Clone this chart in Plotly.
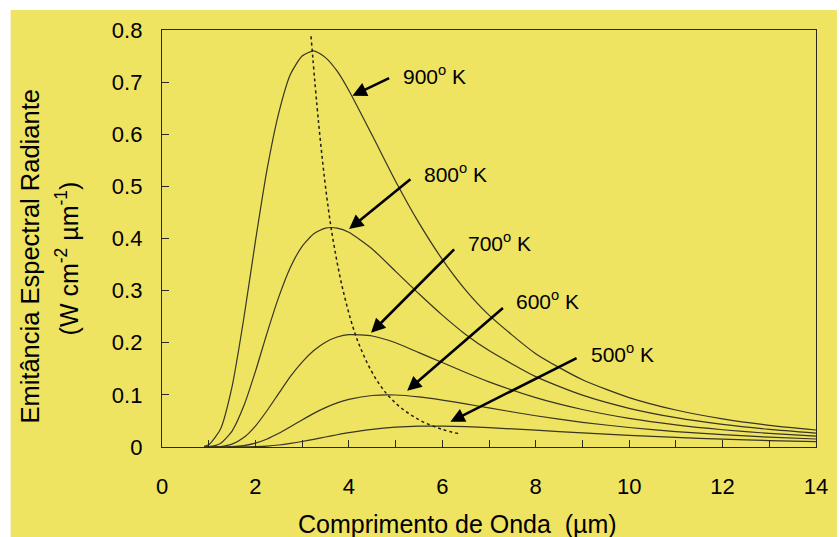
import plotly.graph_objects as go

# wavelength grid (µm)
wavelength = [0.9, 1, 1.25, 1.5, 1.75, 2, 2.25, 2.5, 2.75, 3, 3.25, 3.5, 3.75, 4,
              4.5, 5, 5.5, 6, 6.5, 7, 8, 9, 10, 11, 12, 13, 14]

# spectral radiant emittance (W cm^-2 µm^-1)
t900 = [0.0012, 0.0043, 0.034, 0.116, 0.246, 0.395, 0.533, 0.641, 0.715, 0.750, 0.760,
        0.747, 0.721, 0.684, 0.598, 0.510, 0.430, 0.360, 0.301, 0.253, 0.179, 0.129,
        0.0948, 0.0709, 0.0539, 0.0416, 0.0326]
t800 = [0.0001, 0.0006, 0.0069, 0.0306, 0.0785, 0.145, 0.219, 0.288, 0.345, 0.385, 0.409,
        0.420, 0.420, 0.412, 0.380, 0.337, 0.294, 0.253, 0.216, 0.185, 0.135, 0.0994,
        0.0742, 0.0563, 0.0433, 0.0337, 0.0266]
t700 = [0, 0.00004, 0.0009, 0.0055, 0.0181, 0.0402, 0.070, 0.103, 0.1355, 0.163, 0.185,
        0.201, 0.211, 0.2156, 0.213, 0.200, 0.181, 0.162, 0.143, 0.125, 0.0947, 0.0719,
        0.0549, 0.0424, 0.0331, 0.0261, 0.0208]
t600 = [0, 0, 0.00006, 0.00056, 0.0026, 0.0073, 0.0153, 0.0262, 0.039, 0.052, 0.0645,
        0.0755, 0.0846, 0.0913, 0.0988, 0.0998, 0.0962, 0.0901, 0.0827, 0.0749, 0.060,
        0.0474, 0.0374, 0.0296, 0.0236, 0.0189, 0.0153]
t500 = [0, 0, 0, 0.00002, 0.00017, 0.00066, 0.0018, 0.0038, 0.0068, 0.0105, 0.0147,
        0.0192, 0.0235, 0.0275, 0.034, 0.038, 0.040, 0.0401, 0.039, 0.0371, 0.0322,
        0.027, 0.0223, 0.0183, 0.0150, 0.0124, 0.0102]

# locus of the maxima (dotted line)
peak_x = [3.19, 3.35, 3.53, 3.68, 3.9, 4.2, 4.6, 5.0, 5.5, 6.0, 6.38]
peak_y = [0.788, 0.624, 0.478, 0.388, 0.2915, 0.201, 0.1277, 0.0842, 0.0523, 0.0338, 0.0249]

# labels: text, text position (x, y), arrow head (x, y), arrow tail (x, y)
labels = ["900<sup>o</sup> K", "800<sup>o</sup> K", "700<sup>o</sup> K",
          "600<sup>o</sup> K", "500<sup>o</sup> K"]
label_x = [5.114, 5.561, 6.499, 7.543, 9.141]
label_y = [0.714, 0.526, 0.393, 0.282, 0.181]
head_x = [4.076, 4.006, 4.475, 5.248, 6.173]
head_y = [0.674, 0.418, 0.219, 0.108, 0.0485]
tail_x = [4.894, 5.35, 6.286, 7.33, 8.907]
tail_y = [0.709, 0.516, 0.382, 0.269, 0.172]

YELLOW = "rgb(239,227,98)"
CURVE = "rgb(55,52,35)"
FONT = "Liberation Sans, Arial, sans-serif"

fig = go.Figure()
for series in [t900, t800, t700, t600, t500]:
    fig.add_trace(go.Scatter(x=wavelength, y=series, mode="lines",
                             line=dict(color=CURVE, width=1.2, shape="spline", smoothing=0.6),
                             showlegend=False, hoverinfo="skip"))
fig.add_trace(go.Scatter(x=peak_x, y=peak_y, mode="lines",
                         line=dict(color="rgb(30,30,20)", width=1.5, dash="dot", shape="spline"),
                         showlegend=False, hoverinfo="skip"))

annotations = []
for i in range(len(labels)):
    annotations.append(dict(x=head_x[i], y=head_y[i], ax=tail_x[i], ay=tail_y[i],
                            xref="x", yref="y", axref="x", ayref="y", text="",
                            showarrow=True, arrowhead=2, arrowsize=1.1, arrowwidth=2.6,
                            arrowcolor="black"))
    annotations.append(dict(x=label_x[i], y=label_y[i], xref="x", yref="y", text=labels[i],
                            showarrow=False, xanchor="left", yanchor="middle",
                            font=dict(size=21, color="black", family=FONT)))

# axis titles
L, R, T, B, W, H = 162, 21, 30, 90, 840, 537
pw, ph = W - L - R, H - T - B
def px(xp):
    return (xp - L) / pw
def py(yp):
    return (H - B - yp) / ph

annotations.append(dict(x=px(29), y=py(256), xref="paper", yref="paper",
                        text="Emitância Espectral Radiante", textangle=-90, showarrow=False,
                        xanchor="center", yanchor="middle",
                        font=dict(size=25.5, color="black", family=FONT)))
annotations.append(dict(x=px(67), y=py(258), xref="paper", yref="paper",
                        text="(W cm<sup>-2</sup> µm<sup>-1</sup>)", textangle=-90, showarrow=False,
                        xanchor="center", yanchor="middle",
                        font=dict(size=25, color="black", family=FONT)))
annotations.append(dict(x=px(459), y=py(524), xref="paper", yref="paper",
                        text="Comprimento de Onda  (µm)", showarrow=False,
                        xanchor="center", yanchor="middle",
                        font=dict(size=25, color="black", family=FONT)))

fig.add_shape(type="rect", xref="paper", yref="paper",
              x0=px(10), x1=px(840), y0=py(537), y1=py(10),
              fillcolor=YELLOW, line=dict(width=0), layer="below")

fig.update_layout(
    width=W, height=H,
    margin=dict(l=L, r=R, t=T, b=B),
    paper_bgcolor="white", plot_bgcolor=YELLOW,
    annotations=annotations,
    font=dict(family=FONT, color="black"),
    xaxis=dict(range=[0, 14], dtick=2, tick0=0, showgrid=False, zeroline=False,
               showline=True, linecolor="rgb(40,40,30)", linewidth=1.3, mirror=True,
               ticks="inside", ticklen=7, tickcolor="rgb(40,40,30)",
               minor=dict(dtick=1, ticks="inside", ticklen=7, tickcolor="rgb(40,40,30)"),
               tickfont=dict(size=22, color="black", family=FONT), ticklabelstandoff=19),
    yaxis=dict(range=[0, 0.8], dtick=0.1, tick0=0, showgrid=False, zeroline=False,
               showline=True, linecolor="rgb(40,40,30)", linewidth=1.3, mirror=True,
               ticks="inside", ticklen=7, tickcolor="rgb(40,40,30)",
               tickformat="~g",
               tickfont=dict(size=22, color="black", family=FONT), ticklabelstandoff=14),
)

fig.write_html("out.html")
